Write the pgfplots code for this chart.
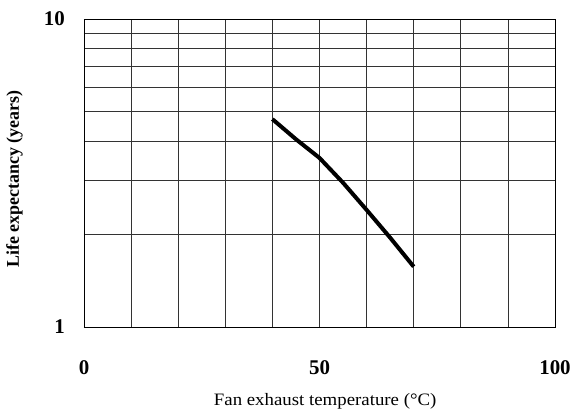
\documentclass[border=0pt]{standalone}
\usepackage{fontspec}
\setmainfont{Liberation Serif}
\usepackage{pgfplots}
\pgfplotsset{compat=1.18}

\begin{document}
\begin{tikzpicture}
  \begin{axis}[
      scale only axis,
      width=471bp, height=308bp,
      xmin=0, xmax=100,
      ymode=log, ymin=1, ymax=10,
      xtick={0,50,100}, xticklabels={0,50,100},
      minor xtick={10,20,30,40,60,70,80,90},
      ytick={1,10}, yticklabels={1,10},
      xmajorgrids, xminorgrids, ymajorgrids, yminorgrids,
      grid style={black!80, line width=0.8bp},
      minor grid style={black!80, line width=0.8bp},
      axis line style={black, line width=0.9bp},
      major tick length=0pt, minor tick length=0pt,
      /pgf/number format/assume math mode=true,
      ticklabel style={font=\fontsize{21}{21}\selectfont\bfseries, inner sep=0pt},
      xticklabel style={anchor=north, yshift=-33bp},
      yticklabel style={anchor=east, xshift=-19bp},
      xlabel={Fan exhaust temperature (°C)},
      ylabel={Life expectancy (years)},
      xlabel style={font=\fontsize{17.5}{17.5}\selectfont, inner sep=0pt,
        at={(axis description cs:0.512,-0.2143)}, anchor=north, xscale=1.08},
      ylabel style={font=\fontsize{18}{18}\selectfont\bfseries, inner sep=0pt,
        at={(axis description cs:-0.1295,0.48)}, anchor=south},
  ]
  \addplot[black, line width=4bp, mark=none]
      coordinates {
      (40,4.73)(45,4.07)(50,3.54)(55,2.94)(60,2.40)(65,1.95)(70,1.57)
      };
  \end{axis}
  \path (current axis.south west) ++(-84bp,-83bp) coordinate (bl);
  \path (bl) rectangle ++(573bp,410bp);
\end{tikzpicture}
\end{document}
